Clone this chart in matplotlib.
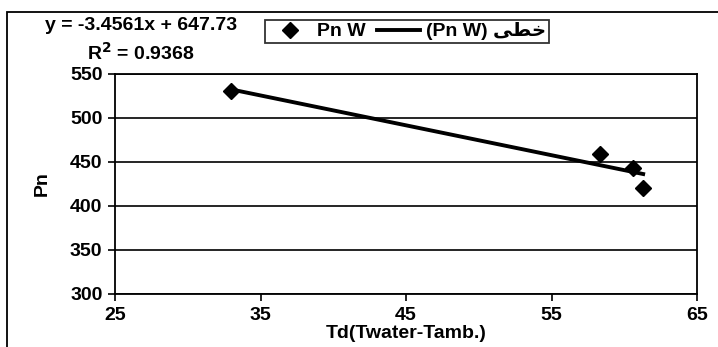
import numpy as np
import matplotlib
matplotlib.use("Agg")
import matplotlib.pyplot as plt
from matplotlib.patches import Rectangle
from matplotlib.lines import Line2D

# data
td = [33.0, 58.3, 60.6, 61.3]
pn = [531, 459, 443, 421]
eq_text = "y = -3.4561x + 647.73"
r2_text = "R$^{\\mathbf{2}}$ = 0.9368"
x_ticks = [25, 35, 45, 55, 65]
y_ticks = [300, 350, 400, 450, 500, 550]
# "خطی (Pn W)" written in visual order with presentation forms (no bidi/shaping in mpl)
trend_label = "(Pn W) \ufbfd\ufec4\ufea7"

plt.rcParams['font.family'] = ['Liberation Sans', 'DejaVu Sans']
plt.rcParams['font.weight'] = 'bold'
fs = 14

fig = plt.figure(figsize=(7.18, 3.47), dpi=100)
ax = fig.add_axes([115/718, 53/347, 582/718, 220/347])

# outer chart frame (right/bottom cut off by the scan)
fig.patches.append(Rectangle((7/718, -0.2), 1.2, (347-12)/347 + 0.2,
                             transform=fig.transFigure, fill=False,
                             edgecolor='black', linewidth=1.3))

slope, icpt = np.polyfit(td, pn, 1)
xs = np.array([min(td), max(td)])
ax.plot(td, pn, linestyle='none', marker='D', markersize=8, color='black', zorder=3)
ax.plot(xs, slope*xs + icpt, color='black', linewidth=2.8, zorder=2)

ax.set_xlim(25, 65)
ax.set_ylim(300, 550)
ax.set_xticks(x_ticks)
ax.set_yticks(y_ticks)
ax.yaxis.grid(True, color='black', linewidth=1.2)
for s in ax.spines.values():
    s.set_linewidth(1.3)
ax.tick_params(axis='both', labelsize=fs, width=1.2, length=5, direction='out')
ax.tick_params(axis='x', pad=4)
ax.tick_params(axis='y', pad=4)
for lab in ax.get_xticklabels() + ax.get_yticklabels():
    lab.set_fontweight('bold')

ax.set_xlabel("Td(Twater-Tamb.)", fontsize=fs, fontweight='bold', labelpad=1)
ax.set_ylabel("Pn", fontsize=fs, fontweight='bold', labelpad=14)

fig.text(141/718, 1 - 26/347, eq_text, fontsize=fs, fontweight='bold',
         ha='center', va='center')
fig.text(141/718, 1 - 53/347, r2_text, fontsize=fs, fontweight='bold',
         ha='center', va='center')

handles = [Line2D([], [], linestyle='none', marker='D', markersize=8, color='black'),
           Line2D([], [], color='black', linewidth=2.8)]
leg = fig.legend(handles, ["Pn W", trend_label], ncol=2, loc='center',
                 bbox_to_anchor=(407/718, 1 - 31.5/347), frameon=True, fancybox=False,
                 edgecolor='black', handlelength=2.2, handletextpad=0.3,
                 columnspacing=0.6, borderpad=0.15, prop={'weight': 'bold', 'size': fs})
leg.get_frame().set_linewidth(1.3)

fig.savefig("out.png", dpi=100)
